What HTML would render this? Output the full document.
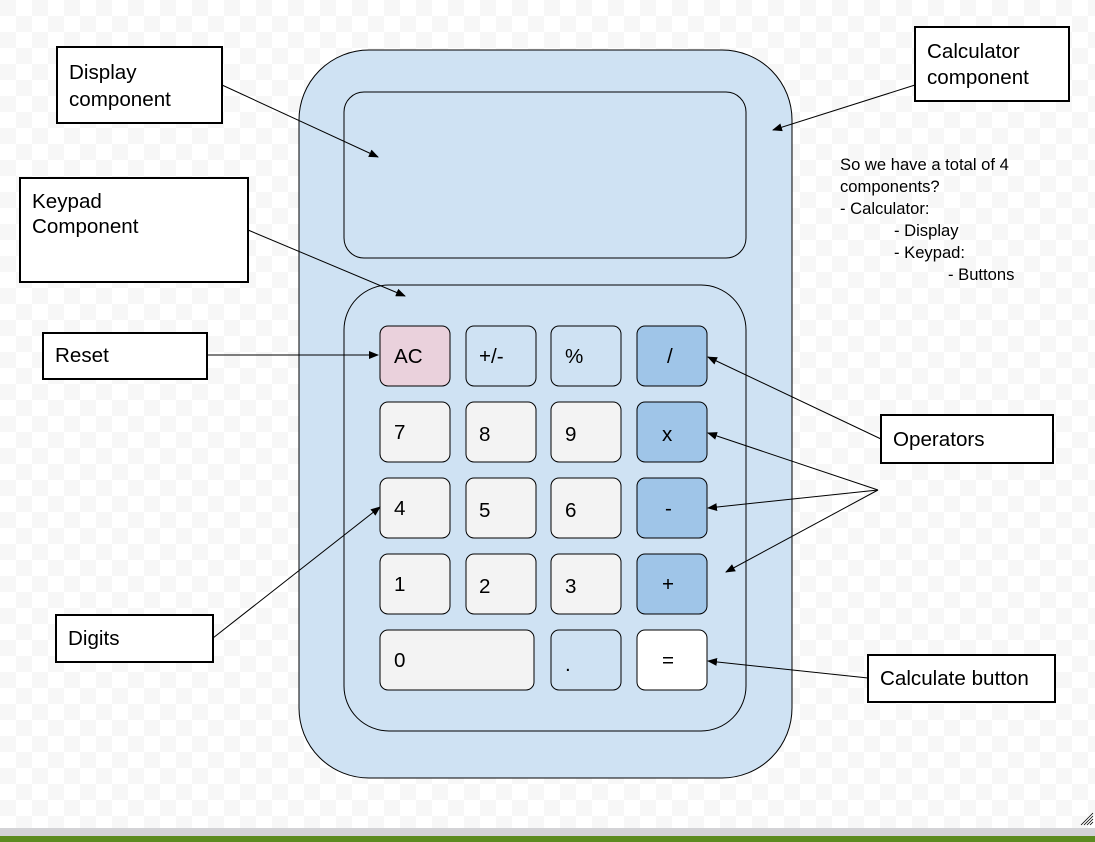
<!DOCTYPE html>
<html><head><meta charset="utf-8"><style>
html,body{margin:0;padding:0;width:1095px;height:842px;overflow:hidden;background:#fff}
svg{display:block;font-family:"Liberation Sans",sans-serif}
</style></head><body>
<svg width="1095" height="842" viewBox="0 0 1095 842">
<defs>
<pattern id="chk" width="32" height="32" patternUnits="userSpaceOnUse"><rect width="32" height="32" fill="#fff"/><rect width="16" height="16" fill="#f7f7f7"/><rect x="16" y="16" width="16" height="16" fill="#f7f7f7"/></pattern>
<marker id="ah" markerWidth="10" markerHeight="8" refX="9" refY="4" orient="auto" markerUnits="userSpaceOnUse"><path d="M0,0 L10,4 L0,8 Z" fill="#000"/></marker>
</defs>
<rect width="1095" height="828" fill="url(#chk)"/>
<rect y="828" width="1095" height="8" fill="#d3d3d6"/>
<rect y="836" width="1095" height="6" fill="#5b8b1f"/>
<g stroke="#000" stroke-width="0.8"><line x1="1081" y1="825" x2="1093" y2="813"/><line x1="1084" y1="825" x2="1093" y2="816"/><line x1="1087" y1="825" x2="1093" y2="819"/><line x1="1090" y1="825" x2="1093" y2="822"/></g>

<rect x="299" y="50" width="493" height="728" rx="70" fill="#cfe2f3" stroke="#000" stroke-width="1"/>
<rect x="344" y="92" width="402" height="166" rx="20" fill="#cfe2f3" stroke="#000"/>
<rect x="344" y="285" width="402" height="446" rx="45" fill="#cfe2f3" stroke="#000"/>

<g font-size="20.6" fill="#000">
<g><rect x="380" y="326" width="70" height="60" rx="8" fill="#ead1dc" stroke="#000"/><text x="394" y="363">AC</text></g>
<g><rect x="466" y="326" width="70" height="60" rx="8" fill="#cfe2f3" stroke="#000"/><text x="479" y="363">+/-</text></g>
<g><rect x="551" y="326" width="70" height="60" rx="8" fill="#cfe2f3" stroke="#000"/><text x="565" y="363">%</text></g>
<g><rect x="637" y="326" width="70" height="60" rx="8" fill="#9fc5e8" stroke="#000"/><text x="667" y="363">/</text></g>

<g><rect x="380" y="402" width="70" height="60" rx="8" fill="#f3f3f3" stroke="#000"/><text x="394" y="439">7</text></g>
<g><rect x="466" y="402" width="70" height="60" rx="8" fill="#f3f3f3" stroke="#000"/><text x="479" y="441">8</text></g>
<g><rect x="551" y="402" width="70" height="60" rx="8" fill="#f3f3f3" stroke="#000"/><text x="565" y="441">9</text></g>
<g><rect x="637" y="402" width="70" height="60" rx="8" fill="#9fc5e8" stroke="#000"/><text x="662" y="441">x</text></g>

<g><rect x="380" y="478" width="70" height="60" rx="8" fill="#f3f3f3" stroke="#000"/><text x="394" y="515">4</text></g>
<g><rect x="466" y="478" width="70" height="60" rx="8" fill="#f3f3f3" stroke="#000"/><text x="479" y="517">5</text></g>
<g><rect x="551" y="478" width="70" height="60" rx="8" fill="#f3f3f3" stroke="#000"/><text x="565" y="517">6</text></g>
<g><rect x="637" y="478" width="70" height="60" rx="8" fill="#9fc5e8" stroke="#000"/><text x="665" y="515">-</text></g>

<g><rect x="380" y="554" width="70" height="60" rx="8" fill="#f3f3f3" stroke="#000"/><text x="394" y="591">1</text></g>
<g><rect x="466" y="554" width="70" height="60" rx="8" fill="#f3f3f3" stroke="#000"/><text x="479" y="593">2</text></g>
<g><rect x="551" y="554" width="70" height="60" rx="8" fill="#f3f3f3" stroke="#000"/><text x="565" y="593">3</text></g>
<g><rect x="637" y="554" width="70" height="60" rx="8" fill="#9fc5e8" stroke="#000"/><text x="662" y="591">+</text></g>

<g><rect x="380" y="630" width="154" height="60" rx="8" fill="#f3f3f3" stroke="#000"/><text x="394" y="667">0</text></g>
<g><rect x="551" y="630" width="70" height="60" rx="8" fill="#cfe2f3" stroke="#000"/><text x="565" y="671">.</text></g>
<g><rect x="637" y="630" width="70" height="60" rx="8" fill="#fff" stroke="#000"/><text x="662" y="667">=</text></g>
</g>

<g font-size="20.6" fill="#000" stroke-width="2">
<g><rect x="57" y="47" width="165" height="76" fill="#fff" stroke="#000" stroke-width="2"/><text x="69" y="79">Display</text><text x="69" y="106">component</text></g>
<g><rect x="20" y="178" width="228" height="104" fill="#fff" stroke="#000" stroke-width="2"/><text x="32" y="208">Keypad</text><text x="32" y="233">Component</text></g>
<g><rect x="43" y="333" width="164" height="46" fill="#fff" stroke="#000" stroke-width="2"/><text x="55" y="362">Reset</text></g>
<g><rect x="56" y="615" width="157" height="47" fill="#fff" stroke="#000" stroke-width="2"/><text x="68" y="645">Digits</text></g>
<g><rect x="915" y="27" width="154" height="74" fill="#fff" stroke="#000" stroke-width="2"/><text x="927" y="58">Calculator</text><text x="927" y="84">component</text></g>
<g><rect x="881" y="415" width="172" height="48" fill="#fff" stroke="#000" stroke-width="2"/><text x="893" y="446">Operators</text></g>
<g><rect x="868" y="655" width="187" height="47" fill="#fff" stroke="#000" stroke-width="2"/><text x="880" y="685">Calculate button</text></g>
</g>

<g stroke="#000" stroke-width="1" fill="none" marker-end="url(#ah)">
<line x1="222" y1="85" x2="378" y2="157"/>
<line x1="248" y1="230" x2="405" y2="296"/>
<line x1="207" y1="355" x2="378" y2="355"/>
<line x1="213" y1="638" x2="380" y2="507"/>
<line x1="915" y1="85" x2="773" y2="130"/>
<line x1="881" y1="439" x2="708" y2="357"/>
<line x1="878" y1="490" x2="708" y2="433"/>
<line x1="878" y1="490" x2="708" y2="508"/>
<line x1="878" y1="490" x2="726" y2="572"/>
<line x1="868" y1="678" x2="708" y2="661"/>
</g>

<g font-size="16.6" fill="#000">
<text x="840" y="170">So we have a total of 4</text>
<text x="840" y="192">components?</text>
<text x="840" y="214">- Calculator:</text>
<text x="894" y="236">- Display</text>
<text x="894" y="258">- Keypad:</text>
<text x="948" y="280">- Buttons</text>
</g>
</svg>
</body></html>
